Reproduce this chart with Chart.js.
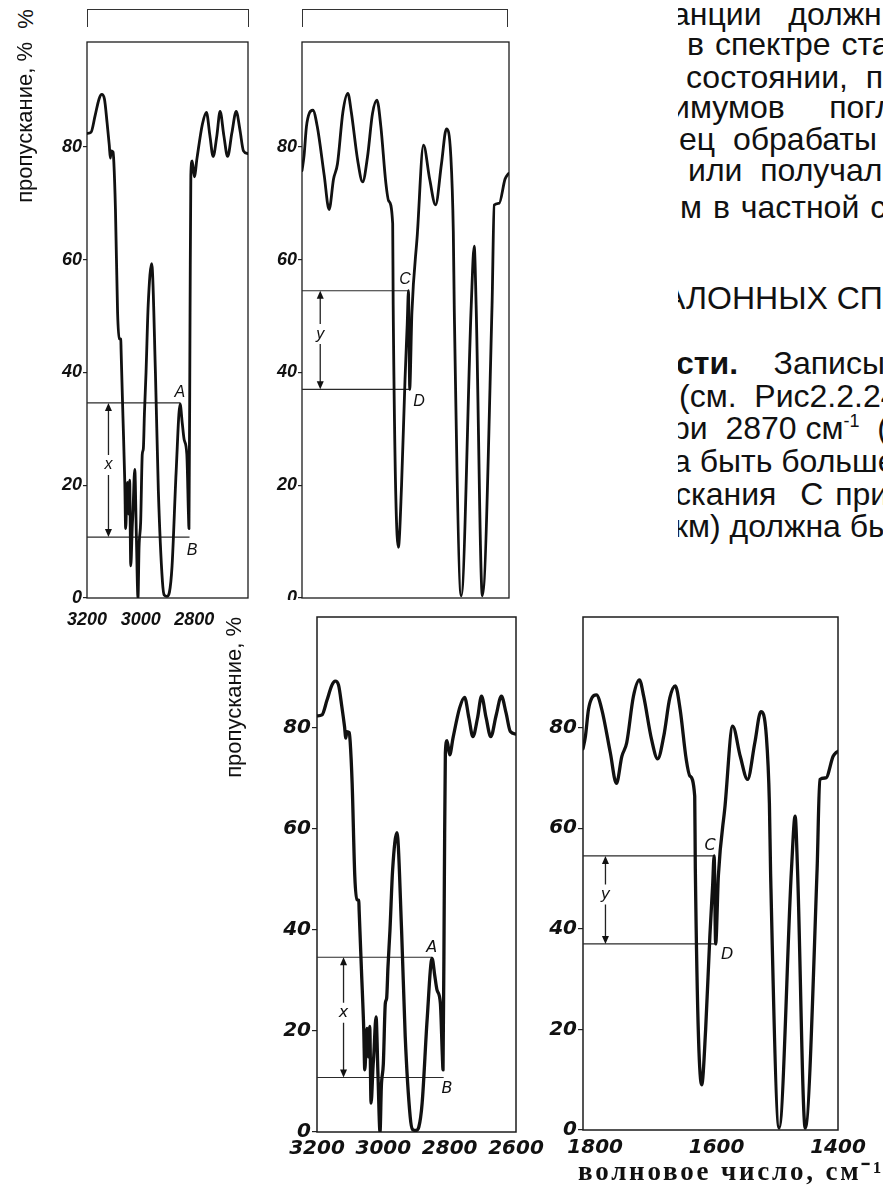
<!DOCTYPE html>
<html lang="ru">
<head>
<meta charset="utf-8">
<script src="https://cdn.jsdelivr.net/npm/chart.js"></script>
<style>
  html, body { margin: 0; padding: 0; background: #fff; }
  body { position: relative; width: 883px; height: 1195px; overflow: hidden; font-family: "Liberation Sans", Arial, sans-serif; color: #111; }
  canvas { position: absolute; }
  .strip { position: absolute; top: 9px; height: 18px; border: 1.3px solid #333; border-bottom: none; box-sizing: border-box; }
  .pct { position: absolute; left: 16px; top: 6px; font-size: 22px; transform: rotate(-90deg); transform-origin: 50% 50%; }
  #cover { position: absolute; left: 218px; top: 600px; width: 665px; height: 595px; background: #fff; z-index: 1; }
  #txt { position: absolute; left: 678px; top: 0; width: 205px; height: 560px; overflow: hidden; z-index: 3;
         font-size: 32px; line-height: 32px; white-space: pre; }
  #txt div { position: absolute; }
  #txt sup { font-size: 18px; line-height: 0; vertical-align: 12px; }
</style>
</head>
<body>

<div class="strip" style="left:87px;width:162px"></div>
<div class="strip" style="left:302px;width:206px"></div>
<div class="pct">%</div>

<canvas id="topLeft" width="268" height="600" style="left:5px;top:30px;z-index:0"></canvas>
<canvas id="topRight" width="279" height="600" style="left:255px;top:30px;z-index:0"></canvas>

<div id="cover"></div>
<canvas id="bottomLeft" width="331" height="562" style="left:215px;top:605px;z-index:2"></canvas>
<canvas id="bottomRight" width="343" height="590" style="left:540px;top:605px;z-index:2"></canvas>

<div id="txt">
  <div style="top:-2px;left:-6px">анции   должны</div>
  <div style="top:28px;left:9px;word-spacing:2px">в спектре ста</div>
  <div style="top:61px;left:8px">состоянии,  по</div>
  <div style="top:91px;left:-6px">имумов     погло</div>
  <div style="top:123px;left:1px">ец  обрабаты</div>
  <div style="top:154px;left:10px">или  получал</div>
  <div style="top:191px;left:2px;word-spacing:2px">м в частной с</div>
  <div style="top:282px;left:-14px">АЛОННЫХ СП</div>
  <div style="top:347px;left:-2px"><b>сти.</b>    Записы</div>
  <div style="top:380px;left:1px">(см.  Рис2.2.24</div>
  <div style="top:412px;left:-6px">ри  2870 см<sup>-1</sup>  (</div>
  <div style="top:445px;left:-5px">а быть больше</div>
  <div style="top:478px;left:-3px;word-spacing:3px">скания  С при</div>
  <div style="top:510px;left:-4px">км) должна бы</div>
</div>

<script>
// C-H stretching region, cm-1 / transmission %
const leftWavenumber = [
  3200, 3185, 3170, 3155, 3145, 3135, 3125, 3117, 3113, 3110,
  3103, 3100, 3094, 3086, 3080, 3074, 3073, 3066, 3059, 3056,
  3052, 3049, 3045, 3041, 3037, 3031, 3029, 3022, 3016, 3010,
  3006, 3000, 2994, 2990, 2986, 2980, 2972, 2959, 2945, 2934,
  2919, 2912, 2902, 2893, 2883, 2868, 2853, 2845, 2838, 2828,
  2822, 2820, 2816, 2813, 2808, 2800, 2790, 2770, 2755, 2742,
  2730, 2716, 2704, 2690, 2676, 2660, 2644, 2630, 2617, 2600
];
const leftTransmission = [
  82.4, 82.6, 85.5, 88.5, 89.3, 88.5, 84.2, 80.3, 78.0, 79.3,
  79.1, 77.3, 69, 50.6, 46, 45.9, 44, 32.1, 20.2, 12.3,
  17, 20.5, 14.9, 20.9, 5.7, 13, 14.9, 22.8, 11, 0,
  9, 13.5, 25.5, 26.5, 32.7, 40, 51.9, 59.3, 40, 18.9,
  3, 0.5, 0.3, 1, 5.7, 22.2, 34.4, 31, 28.1, 25.5,
  15, 12.3, 50, 75, 77.5, 74.7, 78, 84, 86.1, 82,
  78.3, 82, 86.3, 82, 78.3, 82.5, 86.3, 83, 79.3, 78.8
];

// aromatic ring region
const rightWavenumber = [
  1820, 1816, 1811, 1805, 1798, 1789, 1775, 1765, 1756, 1748,
  1737, 1727, 1720, 1707, 1697, 1687, 1677, 1668, 1660, 1650,
  1644, 1636, 1635, 1624.5, 1618, 1611, 1606.5, 1604, 1601.5, 1597,
  1586, 1573.5, 1561, 1549, 1537, 1527, 1518, 1513, 1511, 1497,
  1476.6, 1470.6, 1466.7, 1454, 1434.4, 1430, 1420, 1408, 1402.6, 1400
];
const rightTransmission = [
  75.8, 78.3, 83.6, 86.0, 86.5, 83.6, 75, 68.9, 74.3, 77,
  86.2, 89.5, 86.2, 77.6, 73.8, 78.3, 85.9, 88.3, 83.6, 73.7,
  70.4, 66.4, 52, 9, 20, 38.7, 48.6, 54.5, 37, 50.6,
  64.5, 80.3, 74.3, 69.7, 77, 83.2, 78.3, 65, 51, 0.4,
  51.9, 62.4, 51.9, 0.4, 51.9, 69.7, 70, 74.3, 75.1, 75.3
];

const leftTicks = [3200, 3000, 2800, 2600];
const rightTicks = [1800, 1600, 1400];
const yTicks = [0, 20, 40, 60, 80];

// measuring construction: x between A and B, y between C and D
const levelA = 34.6, levelB = 10.8, levelC = 54.5, levelD = 37;
const leftMarks = {
  lines: [[3200, 2853, levelA], [3200, 2818, levelB]],
  arrowAt: 3120, upper: levelA, lower: levelB, name: 'x', nameAt: 23.6,
  points: [['A', 2854, 36.4], ['B', 2808, 8.5]]
};
const rightMarks = {
  lines: [[1820, 1603.5, levelC], [1820, 1601.5, levelD]],
  arrowAt: 1783, upper: levelC, lower: levelD, name: 'y', nameAt: 46.8,
  points: [['C', 1610.8, 56.5], ['D', 1582.5, 34.8]]
};

const marksPlugin = {
  id: 'marks',
  beforeDatasetsDraw(chart, args, opts) {
    const {ctx, chartArea: a} = chart;
    ctx.save();
    ctx.strokeStyle = '#1c1c1c';
    ctx.lineWidth = opts.frame;
    ctx.strokeRect(a.left, a.top, a.width, a.height);
    ctx.restore();
  },
  afterDatasetsDraw(chart, args, opts) {
    const {ctx, chartArea: a, scales: {x, y}} = chart;
    const m = opts.marks;
    const ax = x.getPixelForValue(m.arrowAt);
    const top = y.getPixelForValue(m.upper);
    const bot = y.getPixelForValue(m.lower);
    const mid = y.getPixelForValue(m.nameAt);
    ctx.save();
    ctx.strokeStyle = '#222';
    ctx.fillStyle = '#111';
    ctx.lineWidth = 1.3;
    ctx.beginPath();
    ctx.moveTo(ax, top + 3); ctx.lineTo(ax, mid - 10);
    ctx.moveTo(ax, mid + 10); ctx.lineTo(ax, bot - 3);
    ctx.stroke();
    [[top, 1], [bot, -1]].forEach(([py, dir]) => {
      ctx.beginPath();
      ctx.moveTo(ax, py);
      ctx.lineTo(ax - 3.5, py + dir * 8);
      ctx.lineTo(ax + 3.5, py + dir * 8);
      ctx.closePath();
      ctx.fill();
    });
    ctx.font = opts.letterFont;
    ctx.textAlign = 'center';
    ctx.textBaseline = 'middle';
    ctx.fillText(m.name, ax, mid);
    m.points.forEach(p => ctx.fillText(p[0], x.getPixelForValue(p[1]), y.getPixelForValue(p[2])));
    if (opts.xTitle) {
      ctx.font = opts.xTitle.font;
      ctx.letterSpacing = opts.xTitle.spacing;
      ctx.textAlign = 'left';
      ctx.fillText(opts.xTitle.text, a.left + opts.xTitle.dx, a.bottom + opts.xTitle.dy);
    }
    ctx.restore();
  }
};

function spectrum(id, s) {
  const curve = s.wn.map((w, i) => ({x: w, y: s.tr[i]}));
  const guides = s.marks.lines.map(l => ({
    data: [{x: l[0], y: l[2]}, {x: l[1], y: l[2]}],
    borderColor: '#2a2a2a', borderWidth: 1.1, pointRadius: 0
  }));
  return new Chart(document.getElementById(id), {
    type: 'line',
    data: {
      datasets: [{
        data: curve,
        borderColor: '#111',
        borderWidth: s.lw,
        pointRadius: 0,
        cubicInterpolationMode: 'monotone',
        borderJoinStyle: 'round',
        borderCapStyle: 'round'
      }, ...guides]
    },
    options: {
      responsive: false,
      animation: false,
      devicePixelRatio: 1,
      layout: { autoPadding: false, padding: s.pad },
      plugins: {
        legend: { display: false },
        tooltip: { enabled: false },
        marks: { marks: s.marks, frame: s.frame, letterFont: s.letterFont, xTitle: s.xTitle }
      },
      scales: {
        x: {
          type: 'linear', reverse: true, min: s.xMin, max: s.xMax,
          afterBuildTicks: sc => { sc.ticks = s.xTicks.map(v => ({value: v})); },
          afterFit: sc => { sc.height = s.xHeight; sc.paddingLeft = 0; sc.paddingRight = 0; },
          grid: { display: false, drawTicks: false },
          border: { display: false },
          ticks: { padding: s.xPad, font: s.tickFont, color: '#111', maxRotation: 0, autoSkip: false, callback: v => String(v) }
        },
        y: {
          type: 'linear', min: 0, max: s.yMax,
          afterBuildTicks: sc => { sc.ticks = yTicks.map(v => ({value: v})); },
          afterFit: sc => { sc.width = s.yWidth; sc.paddingTop = 0; sc.paddingBottom = 0; },
          grid: { drawOnChartArea: false, drawTicks: true, tickLength: s.tickLen, color: '#222', lineWidth: 1.2 },
          border: { display: false },
          ticks: { padding: 1, font: s.tickFont, color: '#111', autoSkip: false, callback: v => String(v) },
          title: s.yTitle ? {
            display: true, text: 'пропускание, %', align: 'end', color: '#111',
            font: { family: 'Liberation Sans', size: 22, lineHeight: 1.2 },
            padding: { top: s.yTitlePad, bottom: 0 }
          } : { display: false }
        }
      }
    },
    plugins: [marksPlugin]
  });
}

const topFont = { family: 'Liberation Sans', size: 18, style: 'italic', weight: 'bold' };
const bottomFont = { family: 'DejaVu Sans', size: 20, style: 'italic', weight: 'bold' };

spectrum('topLeft', {
  wn: leftWavenumber, tr: leftTransmission, marks: leftMarks, xTicks: leftTicks,
  xMin: 2600, xMax: 3200, yMax: 98.6, lw: 2.8, frame: 1.3,
  pad: { left: 0, top: 12, right: 25, bottom: 0 }, yWidth: 82, xHeight: 32, xPad: 11, tickLen: 4,
  tickFont: topFont, letterFont: 'italic 16px "Liberation Sans"', yTitle: true, yTitlePad: 8
});
spectrum('topRight', {
  wn: rightWavenumber, tr: rightTransmission, marks: rightMarks, xTicks: rightTicks,
  xMin: 1400, xMax: 1820, yMax: 98.6, lw: 2.8, frame: 1.3,
  pad: { left: 0, top: 12, right: 25, bottom: 0 }, yWidth: 47, xHeight: 32, xPad: 11, tickLen: 4,
  tickFont: topFont, letterFont: 'italic 16px "Liberation Sans"', yTitle: false
});
spectrum('bottomLeft', {
  wn: leftWavenumber, tr: leftTransmission, marks: leftMarks, xTicks: leftTicks,
  xMin: 2600, xMax: 3200, yMax: 102, lw: 3.3, frame: 1.5,
  pad: { left: 0, top: 12, right: 30, bottom: 0 }, yWidth: 102, xHeight: 35, xPad: 5, tickLen: 5,
  tickFont: bottomFont, letterFont: 'italic 16px "DejaVu Sans"', yTitle: true, yTitlePad: 7
});
spectrum('bottomRight', {
  wn: rightWavenumber, tr: rightTransmission, marks: rightMarks, xTicks: rightTicks,
  xMin: 1400, xMax: 1820, yMax: 102, lw: 3.3, frame: 1.5,
  pad: { left: 0, top: 12, right: 45, bottom: 0 }, yWidth: 43, xHeight: 65, xPad: 6, tickLen: 5,
  tickFont: bottomFont, letterFont: 'italic 16px "DejaVu Sans"', yTitle: false,
  xTitle: { text: 'волновое число, см⁻¹', font: 'bold 27px "Liberation Serif"', spacing: '2.8px', dx: -5, dy: 43 }
});
</script>
</body>
</html>
